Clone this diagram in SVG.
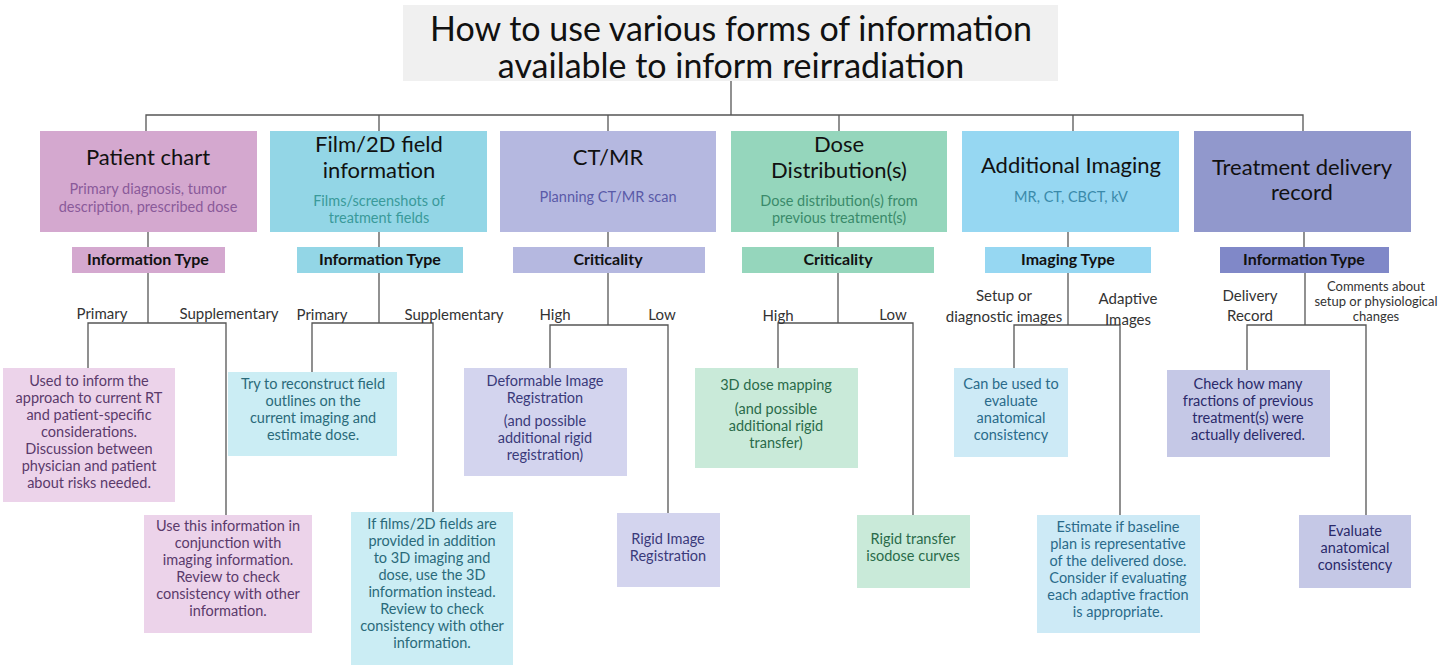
<svg xmlns="http://www.w3.org/2000/svg" width="1448" height="670" viewBox="0 0 1448 670">
<style>
text{font-family:Lato,"Open Sans","Liberation Sans",sans-serif;text-anchor:middle}
.t{font-size:22px;fill:#111}
.s{font-size:14.5px}
.ty{font-size:16px;font-weight:bold;fill:#111}
.lb{font-size:15px;fill:#333}
.lf{font-size:14.5px}
.c line,.c polyline{stroke:#555;stroke-width:1.3;fill:none}
</style>
<rect width="1448" height="670" fill="#fff"/>
<g id="title">
<rect x="403" y="5" width="655" height="76" fill="#f0f0f0"/>
<text x="731" y="32" font-size="34" fill="#111" dominant-baseline="middle">How to use various forms of information</text>
<text x="731" y="69" font-size="34" fill="#111" dominant-baseline="middle">available to inform reirradiation</text>
</g>
<g class="c" id="connectors">
<line x1="731" y1="81" x2="731" y2="115"/>
<polyline points="146,131 146,115 1303,115 1303,131"/>
<line x1="379" y1="115" x2="379" y2="131"/><line x1="608" y1="115" x2="608" y2="131"/>
<line x1="839" y1="115" x2="839" y2="131"/><line x1="1073" y1="115" x2="1073" y2="131"/>
<line x1="148" y1="232" x2="148" y2="247"/><line x1="379" y1="222" x2="379" y2="247"/>
<line x1="608" y1="232" x2="608" y2="247"/><line x1="838" y1="232" x2="838" y2="247"/>
<line x1="1068" y1="232" x2="1068" y2="247"/><line x1="1304" y1="232" x2="1304" y2="247"/>
<line x1="148" y1="273" x2="148" y2="323"/><polyline points="88,368 88,323 226,323 226,515"/>
<line x1="379" y1="273" x2="379" y2="323"/><polyline points="312,372 312,323 433,323 433,512"/>
<line x1="608" y1="273" x2="608" y2="325"/><polyline points="550,368 550,325 668,325 668,513"/>
<line x1="838" y1="273" x2="838" y2="323"/><polyline points="778,368 778,323 913,323 913,515"/>
<line x1="1068" y1="273" x2="1068" y2="325"/><polyline points="1014,368 1014,325 1120,325 1120,515"/>
<line x1="1305" y1="273" x2="1305" y2="325"/><polyline points="1247,370 1247,325 1366,325 1366,515"/>
</g>
<g id="patient-chart">
<rect x="40" y="131" width="217" height="101" fill="#d4a8cf"/>
<text class="t" x="148" y="165">Patient chart</text>
<text class="s" x="148" y="194" fill="#8a5a9a">Primary diagnosis, tumor</text>
<text class="s" x="148" y="212" fill="#8a5a9a">description, prescribed dose</text>
</g>
<g id="film">
<rect x="270" y="131" width="217" height="101" fill="#93d6e6"/>
<text class="t" x="379" y="152">Film/2D field</text>
<text class="t" x="379" y="178">information</text>
<text class="s" x="379" y="206" fill="#3a9a9a">Films/screenshots of</text>
<text class="s" x="379" y="223" fill="#3a9a9a">treatment fields</text>
</g>
<g id="ctmr">
<rect x="500" y="131" width="216" height="101" fill="#b5b8e0"/>
<text class="t" x="608" y="165">CT/MR</text>
<text class="s" x="608" y="202" fill="#5a5aa8">Planning CT/MR scan</text>
</g>
<g id="dose">
<rect x="731" y="131" width="216" height="101" fill="#95d6bc"/>
<text class="t" x="839" y="152">Dose</text>
<text class="t" x="839" y="178">Distribution(s)</text>
<text class="s" x="839" y="206" fill="#3a8a6a">Dose distribution(s) from</text>
<text class="s" x="839" y="223" fill="#3a8a6a">previous treatment(s)</text>
</g>
<g id="additional-imaging">
<rect x="962" y="131" width="217" height="101" fill="#96d7f2"/>
<text class="t" x="1071" y="173">Additional Imaging</text>
<text class="s" x="1071" y="202" fill="#3a8aaa">MR, CT, CBCT, kV</text>
</g>
<g id="treatment">
<rect x="1194" y="131" width="217" height="101" fill="#9198cc"/>
<text class="t" x="1302" y="175" fill="#222266">Treatment delivery</text>
<text class="t" x="1302" y="200" fill="#222266">record</text>
</g>
<g id="type1"><rect x="72" y="247" width="153" height="26" fill="#d4a8cf"/><text class="ty" x="148" y="265">Information Type</text></g>
<g id="type2"><rect x="297" y="247" width="166" height="26" fill="#93d6e6"/><text class="ty" x="380" y="265">Information Type</text></g>
<g id="type3"><rect x="513" y="247" width="192" height="26" fill="#b5b8e0"/><text class="ty" x="608" y="265">Criticality</text></g>
<g id="type4"><rect x="742" y="247" width="192" height="26" fill="#95d6bc"/><text class="ty" x="838" y="265">Criticality</text></g>
<g id="type5"><rect x="985" y="247" width="166" height="26" fill="#96d7f2"/><text class="ty" x="1068" y="265">Imaging Type</text></g>
<g id="type6"><rect x="1220" y="247" width="169" height="26" fill="#8088c8"/><text class="ty" x="1304" y="265" fill="#222266">Information Type</text></g>
<g id="labels">
<text class="lb" x="102" y="319">Primary</text>
<text class="lb" x="229" y="319">Supplementary</text>
<text class="lb" x="322" y="320">Primary</text>
<text class="lb" x="454" y="320">Supplementary</text>
<text class="lb" x="555" y="320">High</text>
<text class="lb" x="662" y="320">Low</text>
<text class="lb" x="778" y="321">High</text>
<text class="lb" x="893" y="320">Low</text>
<text class="lb" x="1004" y="301">Setup or</text>
<text class="lb" x="1004" y="322">diagnostic images</text>
<text class="lb" x="1128" y="304">Adaptive</text>
<text class="lb" x="1128" y="325">Images</text>
<text class="lb" x="1250" y="301">Delivery</text>
<text class="lb" x="1250" y="321">Record</text>
<text x="1376" y="291" font-size="13" fill="#333">Comments about</text>
<text x="1376" y="306" font-size="13" fill="#333">setup or physiological</text>
<text x="1376" y="321" font-size="13" fill="#333">changes</text>
</g>
<g id="p1" class="lf" fill="#5a3a6a">
<rect x="3" y="368" width="172" height="134" fill="#ecd3ea"/>
<text x="89" y="386">Used to inform the</text><text x="89" y="403">approach to current RT</text><text x="89" y="420">and patient-specific</text><text x="89" y="437">considerations.</text><text x="89" y="454">Discussion between</text><text x="89" y="471">physician and patient</text><text x="89" y="488">about risks needed.</text>
</g>
<g id="p2" class="lf" fill="#5a3a6a">
<rect x="144" y="515" width="168" height="118" fill="#ecd3ea"/>
<text x="228" y="531">Use this information in</text><text x="228" y="548">conjunction with</text><text x="228" y="565">imaging information.</text><text x="228" y="582">Review to check</text><text x="228" y="599">consistency with other</text><text x="228" y="616">information.</text>
</g>
<g id="f1" class="lf" fill="#2a6a7a">
<rect x="228" y="372" width="169" height="84" fill="#cbedf4"/>
<text x="313" y="389">Try to reconstruct field</text><text x="313" y="406">outlines on the</text><text x="313" y="423">current imaging and</text><text x="313" y="440">estimate dose.</text>
</g>
<g id="f2" class="lf" fill="#2a6a7a">
<rect x="351" y="512" width="162" height="153" fill="#cbedf4"/>
<text x="432" y="529">If films/2D fields are</text><text x="432" y="546">provided in addition</text><text x="432" y="563">to 3D imaging and</text><text x="432" y="580">dose, use the 3D</text><text x="432" y="597">information instead.</text><text x="432" y="614">Review to check</text><text x="432" y="631">consistency with other</text><text x="432" y="648">information.</text>
</g>
<g id="c1" class="lf" fill="#3a3a7a">
<rect x="464" y="368" width="163" height="108" fill="#d3d4ee"/>
<text x="545" y="386">Deformable Image</text><text x="545" y="403">Registration</text><text x="545" y="426">(and possible</text><text x="545" y="443">additional rigid</text><text x="545" y="460">registration)</text>
</g>
<g id="c2" class="lf" fill="#3a3a7a">
<rect x="617" y="513" width="103" height="74" fill="#d3d4ee"/>
<text x="668" y="544">Rigid Image</text><text x="668" y="561">Registration</text>
</g>
<g id="d1" class="lf" fill="#2a6a4a">
<rect x="695" y="368" width="163" height="100" fill="#c9ead9"/>
<text x="776" y="390">3D dose mapping</text><text x="776" y="414">(and possible</text><text x="776" y="431">additional rigid</text><text x="776" y="448">transfer)</text>
</g>
<g id="d2" class="lf" fill="#2a6a4a">
<rect x="857" y="515" width="113" height="73" fill="#c9ead9"/>
<text x="913" y="544">Rigid transfer</text><text x="913" y="561">isodose curves</text>
</g>
<g id="i1" class="lf" fill="#2a6a8a">
<rect x="954" y="368" width="114" height="89" fill="#cdeaf6"/>
<text x="1011" y="389">Can be used to</text><text x="1011" y="406">evaluate</text><text x="1011" y="423">anatomical</text><text x="1011" y="440">consistency</text>
</g>
<g id="i2" class="lf" fill="#2a6a8a">
<rect x="1037" y="515" width="163" height="118" fill="#cdeaf6"/>
<text x="1118" y="532">Estimate if baseline</text><text x="1118" y="549">plan is representative</text><text x="1118" y="566">of the delivered dose.</text><text x="1118" y="583">Consider if evaluating</text><text x="1118" y="600">each adaptive fraction</text><text x="1118" y="617">is appropriate.</text>
</g>
<g id="t1" class="lf" fill="#2a2a6a">
<rect x="1167" y="370" width="163" height="87" fill="#c5c8e6"/>
<text x="1248" y="389">Check how many</text><text x="1248" y="406">fractions of previous</text><text x="1248" y="423">treatment(s) were</text><text x="1248" y="440">actually delivered.</text>
</g>
<g id="t2" class="lf" fill="#2a2a6a">
<rect x="1299" y="515" width="112" height="73" fill="#c5c8e6"/>
<text x="1355" y="536">Evaluate</text><text x="1355" y="553">anatomical</text><text x="1355" y="570">consistency</text>
</g>
</svg>
